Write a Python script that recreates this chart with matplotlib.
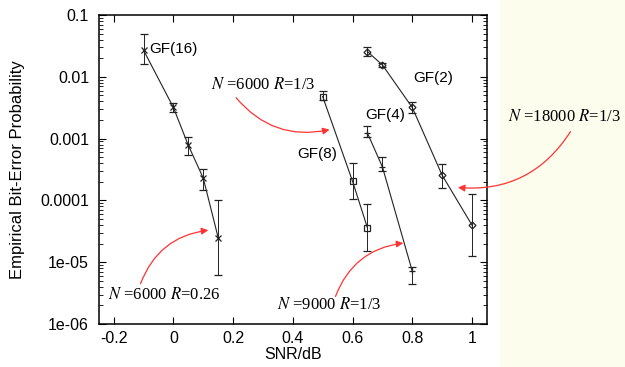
"""
Empirical bit-error probability vs SNR for LDPC codes over GF(q).
"""

import matplotlib
matplotlib.use("Agg")
import matplotlib.pyplot as plt
from matplotlib.patches import Rectangle

# GF(16), N=6000 R=0.26
gf16_snr = [-0.1, 0.0, 0.05, 0.1, 0.15]
gf16_ber = [0.027, 0.0032, 0.00078, 0.00023, 2.5e-5]
gf16_lo = [0.016, 0.0027, 0.00055, 0.00015, 6.2e-6]
gf16_hi = [0.049, 0.0038, 0.00107, 0.00032, 1.0e-4]

# GF(8), N=6000 R=1/3
gf8_snr = [0.5, 0.6, 0.65]
gf8_ber = [0.0048, 0.000205, 3.6e-5]
gf8_lo = [0.0042, 0.000107, 1.5e-5]
gf8_hi = [0.0058, 0.0004, 8.9e-5]

# GF(4), N=9000 R=1/3
gf4_snr = [0.65, 0.7, 0.8]
gf4_ber = [0.00123, 0.00035, 7.2e-6]
gf4_lo = [0.00105, 0.000295, 4.5e-6]
gf4_hi = [0.00162, 0.00051, 8.5e-6]

# GF(2), N=18000 R=1/3
gf2_snr = [0.65, 0.7, 0.8, 0.9, 1.0]
gf2_ber = [0.0256, 0.0156, 0.0032, 0.000257, 4.0e-5]
gf2_lo = [0.0219, 0.0146, 0.0026, 0.000158, 1.26e-5]
gf2_hi = [0.0309, 0.0166, 0.0039, 0.00039, 0.000126]

x_ticks = [-0.2, 0.0, 0.2, 0.4, 0.6, 0.8, 1.0]
x_labels = ["-0.2", "0", "0.2", "0.4", "0.6", "0.8", "1"]
y_ticks = [1e-6, 1e-5, 1e-4, 1e-3, 1e-2, 1e-1]
y_labels = ["1e-06", "1e-05", "0.0001", "0.001", "0.01", "0.1"]

SERIF = ["Liberation Serif", "DejaVu Serif"]


def errs(val, lo, hi):
    return [[v - l for v, l in zip(val, lo)], [h - v for v, h in zip(val, hi)]]


def main():
    plt.rcParams["font.family"] = ["Liberation Sans", "DejaVu Sans"]
    plt.rcParams["mathtext.fontset"] = "stix"

    fig = plt.figure(figsize=(6.25, 3.67), dpi=100)
    fig.patches.append(Rectangle((0.8, 0), 0.2, 1, transform=fig.transFigure,
                                 color="#fdfdee", zorder=-1))
    ax = fig.add_axes([0.158, 0.117, 0.621, 0.842])

    series = [
        (gf16_snr, gf16_ber, gf16_lo, gf16_hi, "x", 5),
        (gf8_snr, gf8_ber, gf8_lo, gf8_hi, "s", 4),
        (gf4_snr, gf4_ber, gf4_lo, gf4_hi, "+", 4),
        (gf2_snr, gf2_ber, gf2_lo, gf2_hi, "D", 3.5),
    ]
    for snr, ber, lo, hi, mk, ms in series:
        ax.errorbar(snr, ber, yerr=errs(ber, lo, hi), color="#222222",
                    linewidth=0.8, elinewidth=0.7, capsize=3, capthick=0.7,
                    marker=mk, markersize=ms, markerfacecolor="none",
                    markeredgewidth=0.9)

    ax.set_yscale("log")
    ax.set_xlim(-0.25, 1.05)
    ax.set_ylim(1e-6, 0.1)
    ax.set_xticks(x_ticks, x_labels)
    ax.set_yticks(y_ticks, y_labels)
    for sp in ax.spines.values():
        sp.set_linewidth(1.1)
    ax.tick_params(which="both", direction="in", top=True, right=True,
                   labelsize=11.5)
    ax.tick_params(which="major", length=5)
    ax.tick_params(which="minor", length=3)
    ax.tick_params(axis="y", which="major", pad=7)
    ax.tick_params(axis="x", which="major", pad=5)
    ax.set_xlabel("SNR/dB", fontsize=11.5, labelpad=1)
    ax.set_ylabel("Empirical Bit-Error Probability", fontsize=12)
    ax.yaxis.set_label_coords(-0.19, 0.5)

    lab = dict(fontsize=11, va="center")
    ax.text(-0.08, 0.028, "GF(16)", ha="left", **lab)
    ax.text(0.48, 0.00057, "GF(8)", ha="center", **lab)
    ax.text(0.71, 0.00245, "GF(4)", ha="center", **lab)
    ax.text(0.87, 0.0095, "GF(2)", ha="center", **lab)

    arrow = dict(arrowstyle="-|>", color="#ff3333", lw=0.9, mutation_scale=10,
                 shrinkA=0, shrinkB=0)
    notes = [
        ("$N$ =6000 $R$=1/3", (0.30, 0.0074), (0.21, 0.0046), (0.523, 0.0014), 0.3),
        ("$N$ =6000 $R$=0.26", (-0.03, 3.0e-6), (-0.11, 4.5e-6), (0.117, 3.3e-5), -0.3),
        ("$N$ =9000 $R$=1/3", (0.523, 2.0e-6), (0.543, 2.8e-6), (0.77, 2.04e-5), -0.3),
        ("$N$ =18000 $R$=1/3", (1.31, 0.0022), (1.33, 0.0013), (0.953, 0.000162), -0.3),
    ]
    for txt, pos, start, tip, rad in notes:
        ax.annotate("", xy=tip, xytext=start, annotation_clip=False,
                    arrowprops=dict(connectionstyle=f"arc3,rad={rad}", **arrow))
        ax.text(pos[0], pos[1], txt, ha="center", va="center", fontsize=12,
                family=SERIF, clip_on=False)

    fig.savefig("out.png", dpi=100)


if __name__ == "__main__":
    main()
